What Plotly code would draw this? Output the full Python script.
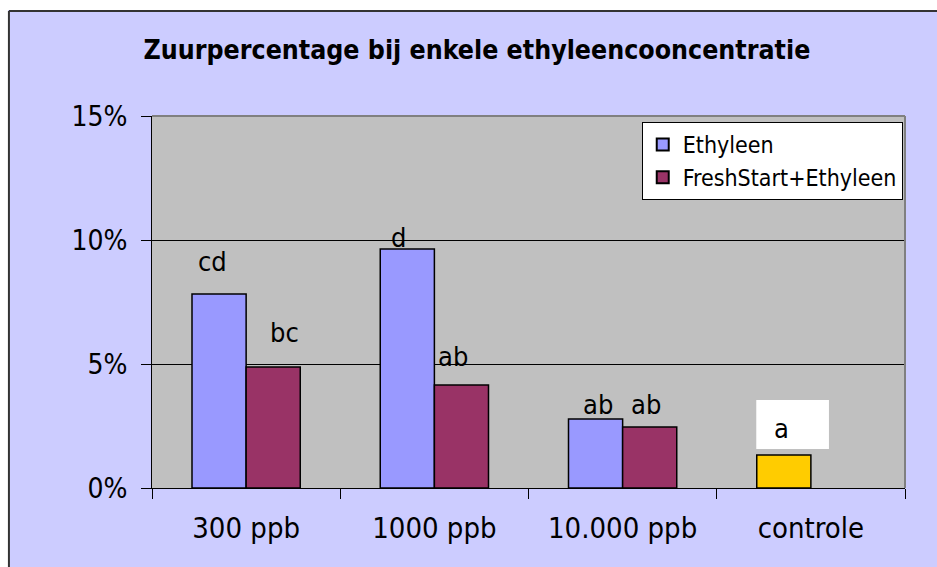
import plotly.graph_objects as go

categories = ["300 ppb", "1000 ppb", "10.000 ppb", "controle"]
ethyleen = [7.82, 9.64, 2.78, 1.33]
freshstart = [4.88, 4.15, 2.46, None]
y_ticks = [0, 5, 10, 15]
y_ticktext = ["0%", "5%", "10%", "15%"]

sig_labels = ["cd", "bc", "d", "ab", "ab", "ab", "a"]
sig_cats = ["300 ppb", "300 ppb", "1000 ppb", "1000 ppb", "10.000 ppb", "10.000 ppb", "controle"]

# label placement (style/position, not data)
sig_y = [9.15, 6.29, 10.12, 5.32, 3.35, 3.35, 2.38]
sig_xshift = [-34, 38, -36, 19, -25, 23, -29]

FONT = "DejaVu Sans Condensed, Liberation Sans Narrow, DejaVu Sans, sans-serif"
LAV = "#CCCCFF"

eth_colors = ["#9999FF", "#9999FF", "#9999FF", "#FFCC00"]

fig = go.Figure()
fig.add_trace(go.Bar(x=categories, y=ethyleen, name="Ethyleen",
                     marker=dict(color=eth_colors, line=dict(color="black", width=1.5))))
fig.add_trace(go.Bar(x=categories, y=freshstart, name="FreshStart+Ethyleen",
                     marker=dict(color="#993366", line=dict(color="black", width=1.5))))

annotations = []
for t, c, y, xs in zip(sig_labels, sig_cats, sig_y, sig_xshift):
    annotations.append(dict(x=c, y=y, text=t, xref="x", yref="y", showarrow=False,
                            xshift=xs, font=dict(family=FONT, size=27, color="black")))

shapes = [
    # white box behind "a"
    dict(type="rect", xref="x", yref="y", x0=2.71, x1=3.096, y0=1.57, y1=3.55,
         fillcolor="white", line=dict(width=0), layer="below"),
    # plot area gray border top/right
    dict(type="line", xref="paper", yref="paper", x0=0, x1=1, y0=1, y1=1,
         line=dict(color="#808080", width=2), layer="above"),
    dict(type="line", xref="paper", yref="paper", x0=1, x1=1, y0=0, y1=1,
         line=dict(color="#808080", width=2), layer="above"),
    # white strips outside chart border
    dict(type="rect", xref="paper", yref="paper", x0=-0.3, x1=1.3, y0=1.285, y1=1.5,
         fillcolor="white", line=dict(width=0), layer="above"),
    dict(type="rect", xref="paper", yref="paper", x0=-0.3, x1=-0.191, y0=-0.5, y1=1.5,
         fillcolor="white", line=dict(width=0), layer="above"),
    # chart border
    dict(type="line", xref="paper", yref="paper", x0=-0.19, x1=1.3, y0=1.282, y1=1.282,
         line=dict(color="#333333", width=2), layer="above"),
    dict(type="line", xref="paper", yref="paper", x0=-0.19, x1=-0.19, y0=-0.5, y1=1.282,
         line=dict(color="#333333", width=2), layer="above"),
]

fig.update_layout(
    width=937, height=567,
    margin=dict(l=152, r=32, t=116, b=79),
    paper_bgcolor=LAV, plot_bgcolor="#C0C0C0",
    barmode="group", bargap=0.425, bargroupgap=0,
    title=dict(text="<b>Zuurpercentage bij enkele ethyleencooncentratie</b>",
               x=0.509, xref="container", xanchor="center", y=0.912, yanchor="middle",
               font=dict(family=FONT, size=26.5, color="black")),
    font=dict(family=FONT, color="black"),
    showlegend=True,
    legend=dict(x=0.997, xanchor="right", y=0.984, yanchor="top",
                bgcolor="white", bordercolor="black", borderwidth=1,
                font=dict(family=FONT, size=23, color="black"),
                itemsizing="constant", tracegroupgap=2),
    xaxis=dict(type="category", showline=True, linecolor="black", linewidth=1,
               ticks="outside", ticklen=10, tickcolor="black", tickson="boundaries",
               ticklabelstandoff=14,
               tickfont=dict(family=FONT, size=29, color="black"),
               showgrid=False, fixedrange=True),
    yaxis=dict(range=[0, 15], tickvals=y_ticks, ticktext=y_ticktext,
               showline=True, linecolor="black", linewidth=1,
               ticks="outside", ticklen=10, tickcolor="black",
               ticklabelstandoff=8,
               tickfont=dict(family=FONT, size=28, color="black"),
               showgrid=True, gridcolor="black", gridwidth=1, zeroline=False),
    annotations=annotations, shapes=shapes,
)

fig.write_html(
    "out.html",
    config={"displayModeBar": False},
    post_script="document.body.style.margin='0';document.body.style.overflow='hidden';"
                "document.documentElement.style.overflow='hidden';",
)
